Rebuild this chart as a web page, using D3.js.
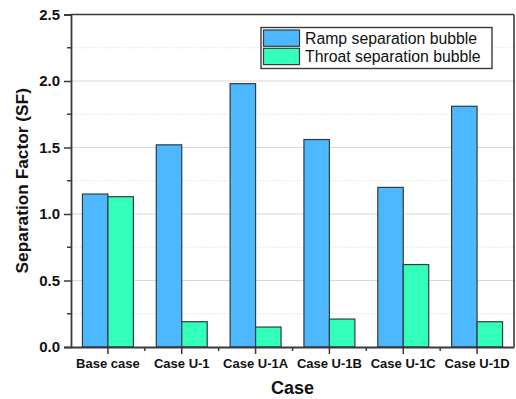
<!DOCTYPE html>
<html>
<head>
<meta charset="utf-8">
<script src="https://cdn.jsdelivr.net/npm/d3@7"></script>
<style>
  html, body { margin: 0; padding: 0; background: #fff; }
  svg { display: block; font-family: "Liberation Sans", Arial, sans-serif; }
</style>
</head>
<body>
<svg id="chart" width="516" height="399"></svg>
<script>
// Separation factor per case, for the ramp and throat bubbles
const cases = ["Base case", "Case U-1", "Case U-1A", "Case U-1B", "Case U-1C", "Case U-1D"];
const seriesNames = ["Ramp separation bubble", "Throat separation bubble"];
const rampSF = [1.15, 1.52, 1.98, 1.56, 1.20, 1.81];
const throatSF = [1.13, 0.19, 0.15, 0.21, 0.62, 0.19];
const yTicks = [0.0, 0.5, 1.0, 1.5, 2.0, 2.5];
const yMinorTicks = [0.25, 0.75, 1.25, 1.75, 2.25];
const colors = ["#4db8ff", "#33ffbb"];

const svg = d3.select("#chart");
const plotLeft = 71, plotRight = 514, plotTop = 14.5, plotBottom = 347;

const x = d3.scaleBand().domain(cases).range([plotLeft, plotRight]).padding(0);
const bw = x.bandwidth();
const x1 = d3.scaleBand().domain(seriesNames).range([bw * 0.155, bw * 0.845]).padding(0);
const y = d3.scaleLinear().domain([0, 2.5]).range([plotBottom, plotTop]);

// grid: dotted minor lines, solid major lines
svg.append("g").selectAll("line").data(yMinorTicks).join("line")
  .attr("x1", plotLeft).attr("x2", plotRight)
  .attr("y1", d => y(d)).attr("y2", d => y(d))
  .attr("stroke", "#e2e2e2").attr("stroke-width", 1).attr("stroke-dasharray", "1.5,1.5");
svg.append("g").selectAll("line").data(yTicks.filter(d => d > 0 && d < 2.5)).join("line")
  .attr("x1", plotLeft).attr("x2", plotRight)
  .attr("y1", d => y(d)).attr("y2", d => y(d))
  .attr("stroke", "#d8d8d8").attr("stroke-width", 1.2);

// bars
const rows = cases.map((c, i) => ({ c, vals: [rampSF[i], throatSF[i]] }));
const groups = svg.append("g").selectAll("g").data(rows).join("g")
  .attr("transform", d => `translate(${x(d.c)},0)`);
groups.selectAll("rect").data(d => d.vals.map((v, k) => ({ v, k }))).join("rect")
  .attr("x", d => x1(seriesNames[d.k]))
  .attr("width", x1.bandwidth())
  .attr("y", d => y(d.v))
  .attr("height", d => y(0) - y(d.v))
  .attr("fill", d => colors[d.k])
  .attr("stroke", "#2f3b44").attr("stroke-width", 1.2);

// frame (top and right)
const frameColor = "#3a3a3a";
svg.append("line").attr("x1", plotLeft).attr("x2", plotRight).attr("y1", plotTop).attr("y2", plotTop)
  .attr("stroke", frameColor).attr("stroke-width", 1.6);
svg.append("line").attr("x1", plotRight).attr("x2", plotRight).attr("y1", plotTop).attr("y2", plotBottom)
  .attr("stroke", frameColor).attr("stroke-width", 1.6);

// y axis
const yAxis = svg.append("g").attr("transform", `translate(${plotLeft},0)`)
  .call(d3.axisLeft(y).tickValues(yTicks).tickFormat(d3.format(".1f")).tickSize(7).tickPadding(4));
yAxis.select(".domain").attr("stroke", frameColor).attr("stroke-width", 1.8);
yAxis.selectAll(".tick line").attr("stroke", frameColor).attr("stroke-width", 1.5);
yAxis.selectAll(".tick text").attr("font-size", 15).attr("font-weight", "bold")
  .attr("fill", "#111").attr("font-family", "Liberation Sans, Arial, sans-serif");
svg.append("g").selectAll("line").data(yMinorTicks).join("line")
  .attr("x1", plotLeft - 4).attr("x2", plotLeft)
  .attr("y1", d => y(d)).attr("y2", d => y(d))
  .attr("stroke", frameColor).attr("stroke-width", 1.5);

// x axis
const xAxis = svg.append("g").attr("transform", `translate(0,${plotBottom})`)
  .call(d3.axisBottom(x).tickSize(7).tickPadding(5).tickSizeOuter(0));
xAxis.select(".domain").attr("stroke", frameColor).attr("stroke-width", 1.8);
xAxis.selectAll(".tick line").attr("stroke", frameColor).attr("stroke-width", 1.5);
xAxis.selectAll(".tick text").attr("font-size", 13).attr("font-weight", "bold")
  .attr("fill", "#111").attr("font-family", "Liberation Sans, Arial, sans-serif");
svg.append("g").selectAll("line").data(cases.slice(1)).join("line")
  .attr("x1", d => x(d)).attr("x2", d => x(d))
  .attr("y1", plotBottom).attr("y2", plotBottom + 4)
  .attr("stroke", frameColor).attr("stroke-width", 1.5);

// axis titles
svg.append("text").attr("x", (plotLeft + plotRight) / 2).attr("y", 394)
  .attr("text-anchor", "middle").attr("font-size", 18).attr("font-weight", "bold")
  .attr("fill", "#111").text("Case");
svg.append("text").attr("transform", `translate(28,${(plotTop + plotBottom) / 2}) rotate(-90)`)
  .attr("text-anchor", "middle").attr("font-size", 17.3).attr("font-weight", "bold")
  .attr("fill", "#111").text("Separation Factor (SF)");

// legend
const lg = svg.append("g").attr("transform", "translate(261,27.5)");
lg.append("rect").attr("width", 231).attr("height", 41)
  .attr("fill", "#fff").attr("stroke", "#3a3a3a").attr("stroke-width", 1.4);
seriesNames.forEach((name, k) => {
  lg.append("rect").attr("x", 2.5).attr("y", 2.5 + k * 18.3)
    .attr("width", 36).attr("height", 16.3)
    .attr("fill", colors[k]).attr("stroke", "#3a3a3a").attr("stroke-width", 1.2);
  lg.append("text").attr("x", 44).attr("y", 16.5 + k * 18)
    .attr("font-size", 15.8).attr("fill", "#111").text(name);
});
</script>
</body>
</html>
